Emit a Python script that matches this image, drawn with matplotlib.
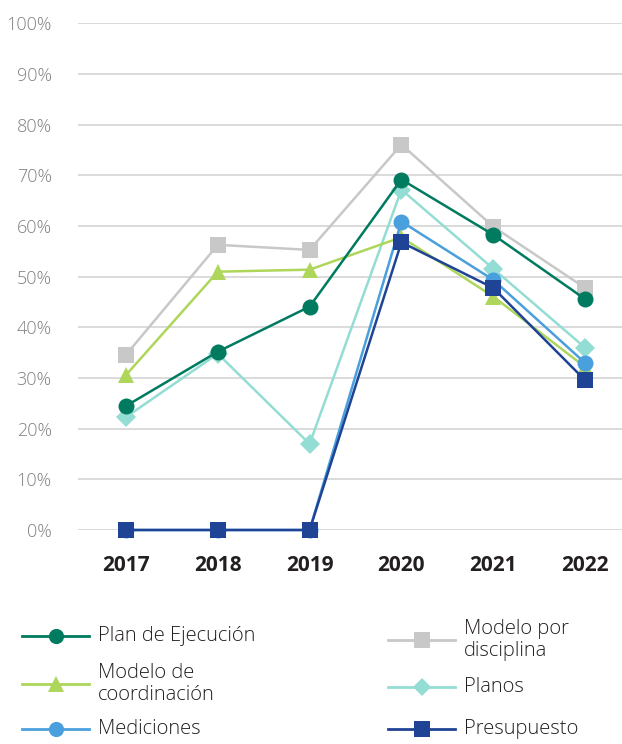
import matplotlib.pyplot as plt
from matplotlib.lines import Line2D

years = ["2017", "2018", "2019", "2020", "2021", "2022"]

plan_ejecucion = [24.5, 35.2, 44.1, 69.2, 58.3, 45.6]
modelo_coordinacion = [30.6, 51.0, 51.4, 57.8, 46.1, 32.2]
modelo_disciplina = [34.6, 56.3, 55.3, 76.1, 59.9, 47.8]
planos = [22.3, 34.8, 17.0, 67.2, 51.6, 36.0]
mediciones = [0, 0, 0, 60.9, 49.4, 33.0]
presupuesto = [0, 0, 0, 56.8, 47.8, 29.6]

series = [
    ("Modelo por\ndisciplina", modelo_disciplina, "#C8C8C8", "s", 11.5),
    ("Planos", planos, "#94DDD4", "D", 10),
    ("Modelo de\ncoordinación", modelo_coordinacion, "#AED65A", "^", 11.5),
    ("Mediciones", mediciones, "#4A9FDD", "o", 11.5),
    ("Presupuesto", presupuesto, "#1F4495", "s", 11.5),
    ("Plan de Ejecución", plan_ejecucion, "#007B5F", "o", 11.5),
]

plt.rcParams['font.family'] = ['Open Sans', 'DejaVu Sans']

fig = plt.figure(figsize=(6.22, 7.44), dpi=100)
ax = fig.add_axes([78 / 622, (744 - 530) / 744, (622 - 78) / 622, (530 - 23.5) / 744])

x = list(range(len(years)))
handles = {}
for label, values, color, marker, ms in series:
    ln, = ax.plot(x, values, color=color, marker=marker, markersize=ms, linewidth=1.8,
                  markeredgewidth=0, clip_on=False)
    handles[label] = ln

ax.set_xlim(-0.523, 5.403)
ax.set_ylim(0, 100)
ax.set_yticks(range(0, 101, 10))
ax.set_yticklabels([f"{v}%" for v in range(0, 101, 10)], color="#808080", fontsize=13, fontweight="light")
ax.set_xticks(x)
ax.set_xticklabels(years, fontsize=15, fontweight="bold", color="#231F20")
ax.tick_params(axis="y", length=0, pad=19)
ax.tick_params(axis="x", length=0, pad=18)
ax.grid(axis="y", color="#DADADA", linewidth=1.4)
ax.set_axisbelow(True)
for s in ax.spines.values():
    s.set_visible(False)

# legend, two columns
legend_items = [
    ("Plan de Ejecución", 22, 636),
    ("Modelo de\ncoordinación", 22, 684),
    ("Mediciones", 22, 729),
    ("Modelo por\ndisciplina", 388, 640),
    ("Planos", 388, 687),
    ("Presupuesto", 388, 729),
]
for label, px, py in legend_items:
    h = handles[label]
    fy = 1 - py / 744
    fig.add_artist(Line2D([px / 622, (px + 67) / 622], [fy, fy], color=h.get_color(),
                          linewidth=2, transform=fig.transFigure))
    fig.add_artist(Line2D([(px + 34) / 622], [fy], color=h.get_color(), marker=h.get_marker(),
                          markersize=h.get_markersize() * 0.95, markeredgewidth=0,
                          transform=fig.transFigure))
    fig.text((px + 76) / 622, fy, label, fontsize=14.5, color="#231F20", fontweight="light",
             va="center", ha="left", linespacing=1.15)

fig.savefig("out.png", dpi=100)
